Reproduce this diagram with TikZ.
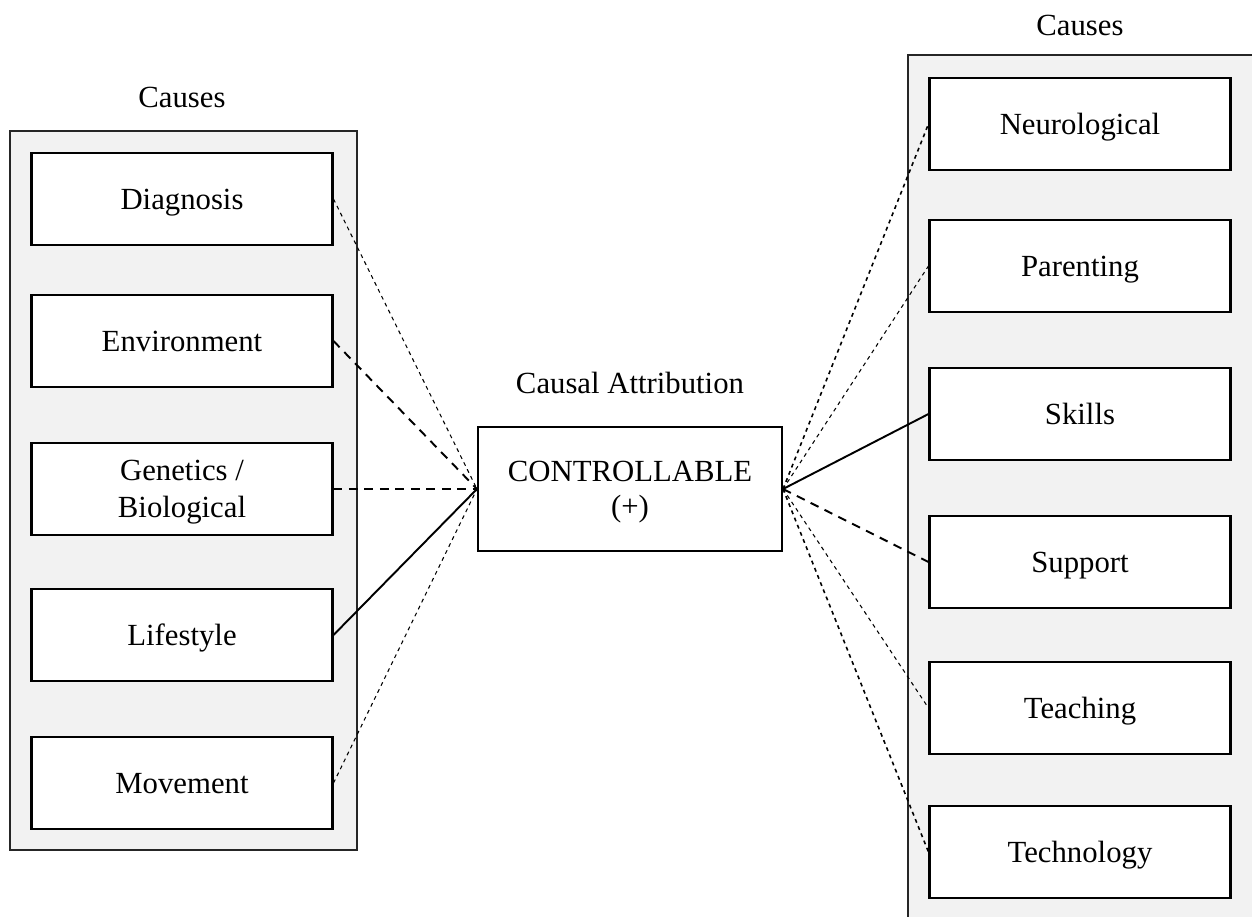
\documentclass[tikz,border=0pt]{standalone}
\usepackage{fontspec}
\setmainfont{Liberation Serif}
\usetikzlibrary{positioning}

\begin{document}
\begin{tikzpicture}[
			x = 0.02cm, y = -0.02cm,
			every node/.style = {font=\fontsize{17.5}{21}\selectfont},
			panel/.style = {draw=black!85, line width=1.4pt, fill=black!5},
			cause/.style = {draw, line width=1.2pt, fill=white, minimum width=6.02cm, minimum height=1.84cm, align=center, inner sep=0pt, text depth=0pt},
			weak/.style = {line width=0.6pt, dash pattern=on 2.2pt off 2.2pt},
			fine/.style = {line width=0.9pt, dash pattern=on 2.2pt off 2.2pt},
			coarse/.style = {line width=1.1pt, dash pattern=on 5pt off 3.8pt},
			strong/.style = {line width=1.1pt}]

			\useasboundingbox (0,0) rectangle (1252,917);

			\draw[panel] (10,131) rectangle (357,850);
			\fill[black!5] (908,55) rectangle (1252,917);
			\draw[draw=black!85, line width=1.4pt] (1252,55) -- (908,55) -- (908,917);

			\node (causesL) at (182,97) {Causes};
			\node (causesR) at (1080,25) {Causes};

			\node[cause] (diag) at (182,199) {Diagnosis};
			\node[cause] (env) at (182,341) {Environment};
			\node[cause] (gen) at (182,489) {Genetics /\\Biological};
			\node[cause] (life) at (182,635) {Lifestyle};
			\node[cause] (move) at (182,783) {Movement};

			\node[cause] (neuro) at (1080,124) {Neurological};
			\node[cause] (parent) at (1080,266) {Parenting};
			\node[cause] (skill) at (1080,414) {Skills};
			\node[cause] (supp) at (1080,562) {Support};
			\node[cause] (teach) at (1080,708) {Teaching};
			\node[cause] (tech) at (1080,852) {Technology};

			\node[cause, minimum width=6.08cm, minimum height=2.48cm, font=\fontsize{17.5}{20}\selectfont] (ctrl) at (630,489) {CONTROLLABLE\\(+)};
			\node (attr) at (630,383) {Causal Attribution};

			\draw[weak] (diag.east) -- (ctrl.west);
			\draw[coarse] (env.east) -- (ctrl.west);
			\draw[coarse] (gen.east) -- (ctrl.west);
			\draw[strong] (life.east) -- (ctrl.west);
			\draw[weak] (move.east) -- (ctrl.west);

			\draw[fine] (ctrl.east) -- (neuro.west);
			\draw[weak] (ctrl.east) -- (parent.west);
			\draw[strong] (ctrl.east) -- (skill.west);
			\draw[coarse] (ctrl.east) -- (supp.west);
			\draw[weak] (ctrl.east) -- (teach.west);
			\draw[fine] (ctrl.east) -- (tech.west);

		\end{tikzpicture}
\end{document}
